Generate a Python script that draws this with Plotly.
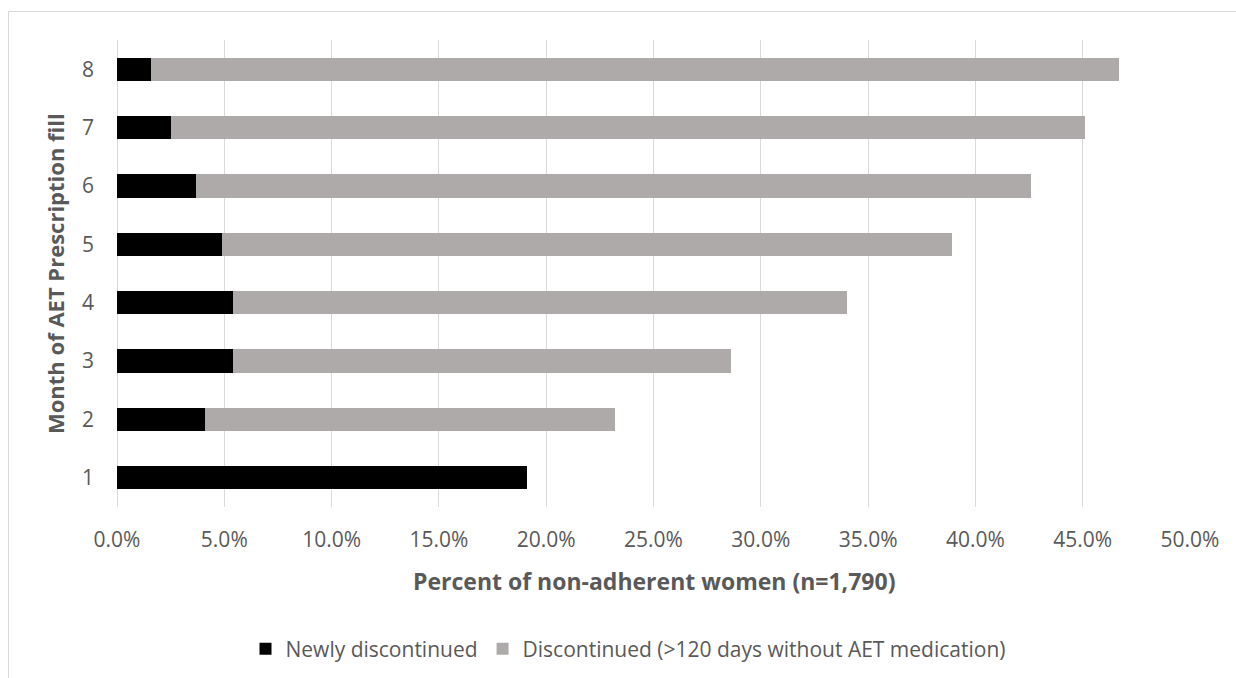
import plotly.graph_objects as go

# ---- data (fractions of non-adherent women) ----
months = ["1", "2", "3", "4", "5", "6", "7", "8"]
newly_discontinued = [0.191, 0.041, 0.054, 0.054, 0.049, 0.037, 0.025, 0.016]
discontinued_120 = [0.0, 0.191, 0.232, 0.286, 0.340, 0.389, 0.426, 0.451]
x_tick_vals = [0.0, 0.05, 0.10, 0.15, 0.20, 0.25, 0.30, 0.35, 0.40, 0.45, 0.50]

series_names = ["Newly discontinued", "Discontinued (>120 days without AET medication)"]
x_title = "Percent of non-adherent women (n=1,790)"
y_title = "Month of AET Prescription fill"

FONT = "Open Sans"
TXT = "#595959"
GRID = "#d9d9d9"

fig = go.Figure()
fig.add_trace(go.Bar(
    y=months, x=newly_discontinued, orientation="h", name=series_names[0],
    marker=dict(color="#000000", line=dict(width=0)),
))
fig.add_trace(go.Bar(
    y=months, x=discontinued_120, orientation="h", name=series_names[1],
    marker=dict(color="#aeaaaa", line=dict(width=0)),
))

W, H = 1236, 678
ml, mr, mt, mb = 117, 46, 40, 171
pw, ph = W - ml - mr, H - mt - mb

def px_x(p):
    return (p - ml) / pw

def px_y(p):
    return 1 - (p - mt) / ph

fig.update_layout(
    width=W, height=H,
    margin=dict(l=ml, r=mr, t=mt, b=mb, pad=0, autoexpand=False),
    barmode="stack",
    bargap=0.6,
    plot_bgcolor="white", paper_bgcolor="white",
    font=dict(family=FONT, color=TXT, size=21),
    showlegend=True,
    legend=dict(
        orientation="h", x=px_x(628), xanchor="center", y=px_y(649), yanchor="middle",
        font=dict(family=FONT, size=21, color=TXT), itemwidth=30, traceorder="normal",
        bgcolor="rgba(0,0,0,0)",
    ),
    xaxis=dict(
        range=[0, 0.5], tickvals=x_tick_vals, tickformat=".1%",
        showgrid=True, gridcolor=GRID, gridwidth=1,
        zeroline=True, zerolinecolor=GRID, zerolinewidth=1,
        showline=False, ticks="", ticklabelstandoff=18, automargin=False,
        tickfont=dict(family=FONT, size=21, color=TXT),
        fixedrange=True,
    ),
    yaxis=dict(
        type="category", categoryorder="array", categoryarray=months,
        range=[-0.5, 7.5], automargin=False,
        showgrid=False, zeroline=False, showline=False, ticks="",
        ticklabelstandoff=22,
        tickfont=dict(family=FONT, size=21, color=TXT),
        fixedrange=True,
    ),
    annotations=[
        dict(text="<b>" + x_title + "</b>", xref="paper", yref="paper",
             x=0.5, y=px_y(581), xanchor="center", yanchor="middle", showarrow=False,
             font=dict(family=FONT, size=23, color=TXT)),
        dict(text="<b>" + y_title + "</b>", xref="paper", yref="paper",
             x=px_x(55), y=px_y(274), xanchor="center", yanchor="middle", showarrow=False,
             textangle=-90, font=dict(family=FONT, size=22, color=TXT)),
    ],
    shapes=[
        dict(type="rect", xref="paper", yref="paper",
             x0=px_x(8.5), x1=px_x(1260), y0=px_y(700), y1=px_y(11.5),
             line=dict(color=GRID, width=1), fillcolor="rgba(0,0,0,0)", layer="below"),
    ],
)

fig.write_html("out.html")
